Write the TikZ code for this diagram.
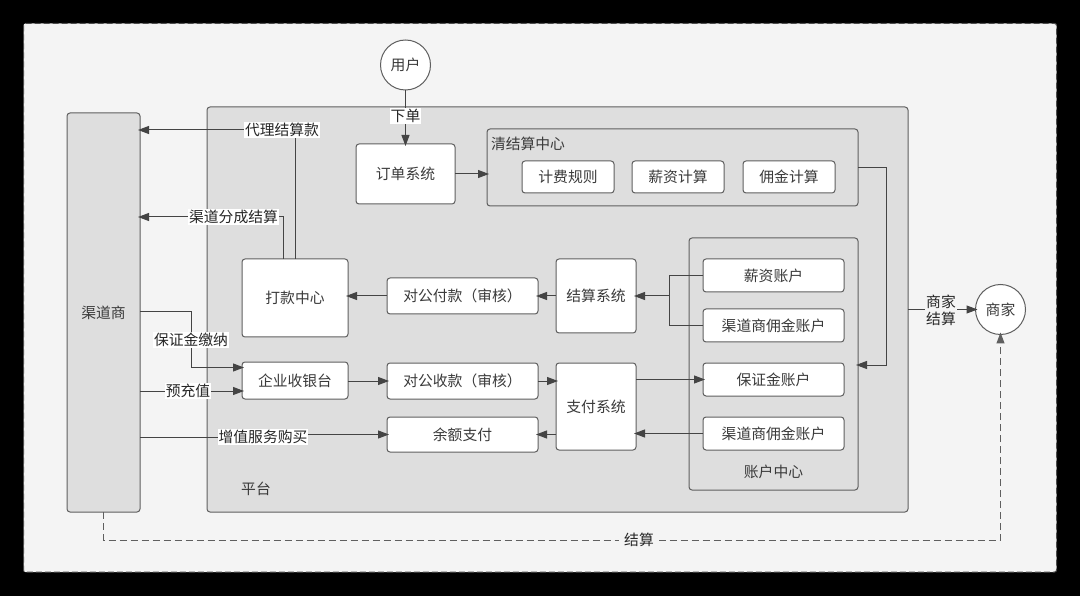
\documentclass[tikz,border=0pt]{standalone}
\usepackage{fontspec}
\setmainfont{Noto Sans CJK SC}
\usetikzlibrary{arrows.meta}
\definecolor{lineC}{HTML}{444444}
\definecolor{boxline}{HTML}{5F5F5F}
\definecolor{txt}{HTML}{3A3A3A}
\definecolor{panel}{HTML}{F4F4F4}
\definecolor{group}{HTML}{DEDEDE}
\tikzset{
  x=1pt,y=-1pt,
  every node/.style={font=\fontsize{14.8}{17}\selectfont,text=txt,inner sep=0pt,outer sep=0pt},
  whitebox/.style={draw=boxline,line width=1pt,fill=white,rounded corners=3pt},
  groupbox/.style={draw=boxline,line width=1pt,fill=group,rounded corners=3pt},
  roundnode/.style={draw=boxline,line width=1pt,fill=white,circle,minimum size=50pt},
  wire/.style={draw=lineC,line width=1pt,shorten >=-2pt,-{Triangle[length=11pt,width=8pt]}},
  plainwire/.style={draw=lineC,line width=1pt},
  dashwire/.style={draw=boxline,line width=1pt,dash pattern=on 7pt off 4pt,shorten >=-2pt,-{Triangle[length=11pt,width=8pt]}},
  edgelabel/.style={fill=white,text=black!85,inner xsep=1pt,inner ysep=1pt},
}
\begin{document}
\begin{tikzpicture}
\useasboundingbox (0,0) rectangle (1080,596);
\fill[black] (0,0) rectangle (1080,596);
\draw[fill=panel,draw=black!70,line width=1pt,dash pattern=on 6pt off 3pt,rounded corners=2pt] (23.5,23.5) rectangle (1056.5,572);

% groups
\node[groupbox,minimum width=73pt,minimum height=399pt] (chan) at (103.5,312.5) {\raisebox{-0.7pt}{渠道商}};
\node[groupbox,minimum width=701pt,minimum height=405pt] (plat) at (557.5,309.5) {};
\node (platT) at (256,488.5) {平台};
\node[groupbox,minimum width=371pt,minimum height=77pt] (clear) at (672.5,167.5) {};
\node (clearT) at (528,143.5) {清结算中心};
\node[groupbox,minimum width=169pt,minimum height=252pt] (acct) at (773.5,364) {};
\node (acctT) at (773.5,472) {账户中心};

% boxes
\node[roundnode] (user) at (405.5,65) {用户};
\node[roundnode] (merch) at (1000.5,309.5) {商家};
\node[whitebox,minimum width=99pt,minimum height=60pt] (order) at (405.5,174) {\raisebox{-0.7pt}{订单系统}};
\node[whitebox,minimum width=92pt,minimum height=32pt] (rule) at (568,177) {\raisebox{-0.7pt}{计费规则}};
\node[whitebox,minimum width=92pt,minimum height=32pt] (sal) at (678,177) {\raisebox{-0.7pt}{薪资计算}};
\node[whitebox,minimum width=92pt,minimum height=32pt] (comm) at (789,177) {\raisebox{-0.7pt}{佣金计算}};
\node[whitebox,minimum width=141pt,minimum height=33pt] (a1) at (773.5,275.5) {薪资账户};
\node[whitebox,minimum width=141pt,minimum height=33pt] (a2) at (773.5,325.5) {渠道商佣金账户};
\node[whitebox,minimum width=141pt,minimum height=33pt] (a3) at (773.5,379.5) {保证金账户};
\node[whitebox,minimum width=141pt,minimum height=33pt] (a4) at (773.5,433.5) {渠道商佣金账户};
\node[whitebox,minimum width=80pt,minimum height=74pt] (settle) at (596,296) {\raisebox{-0.7pt}{结算系统}};
\node[whitebox,minimum width=80pt,minimum height=87pt] (pay) at (596,406.5) {\raisebox{-0.7pt}{支付系统}};
\node[whitebox,minimum width=151pt,minimum height=36pt] (pubout) at (462.5,296) {对公付款（审核）};
\node[whitebox,minimum width=151pt,minimum height=36pt] (pubin) at (462.5,381) {对公收款（审核）};
\node[whitebox,minimum width=151pt,minimum height=35pt] (bal) at (462.5,434.5) {余额支付};
\node[whitebox,minimum width=106pt,minimum height=78pt] (disb) at (295,298) {\raisebox{-0.7pt}{打款中心}};
\node[whitebox,minimum width=106pt,minimum height=37pt] (cash) at (295,380.5) {企业收银台};

% connectors
\draw[wire] (user) -- (order);
\node[edgelabel] at (405.5,116) {下单};
\draw[wire] (order.east |- 0,174) -- (clear.west |- 0,174);
\draw[wire] (clear.east |- 0,168) -- (886,168) -- (886,365) -- (acct.east |- 0,365);
\draw[wire] (plat.east |- merch.west) -- (merch.west);
\node[edgelabel,fill=panel,align=center] at (941,310) {商家\\结算};
\draw[dashwire] (chan.south) -- (103.5,540) -- (1000.5,540) -- (merch.south);
\node[edgelabel,fill=panel,inner xsep=5pt] at (639,540) {结算};

\draw[wire] (disb.north) -- (295,130) -- (chan.east |- 0,130);
\node[edgelabel] at (282,130) {代理结算款};
\draw[wire] (283,0 |- disb.north) -- (283,217) -- (chan.east |- 0,217);
\node[edgelabel] at (233.5,217) {渠道分成结算};
\draw[wire] (pubout.west) -- (disb.east |- pubout.west);
\draw[wire] (settle.west) -- (pubout.east);
\draw[wire] (a1.west) -- (669,275.5) -- (669,296) -- (settle.east);
\draw[plainwire] (a2.west) -- (669,325.5) -- (669,296);
\draw[wire] (pay.east |- a3.west) -- (a3.west);
\draw[wire] (a4.west) -- (pay.east |- a4.west);
\draw[wire] (pay.west |- bal.east) -- (bal.east);
\draw[wire] (pubin.east) -- (pay.west |- pubin.east);
\draw[wire] (cash.east |- pubin.west) -- (pubin.west);
\draw[wire] (chan.east |- 0,312) -- (191,312) -- (191,367.5) -- (cash.west |- 0,367.5);
\node[edgelabel] at (191,340) {保证金缴纳};
\draw[wire] (chan.east |- 0,391) -- (cash.west |- 0,391);
\node[edgelabel] at (188,391) {预充值};
\draw[plainwire] (chan.east |- 0,437) -- (263,437) -- (263,434.5);
\draw[wire] (263,434.5) -- (bal.west);
\node[edgelabel] at (263,437) {增值服务购买};
\end{tikzpicture}
\end{document}
